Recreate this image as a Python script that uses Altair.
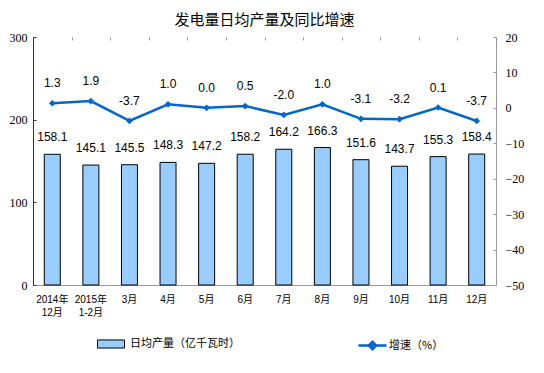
import altair as alt
import pandas as pd

categories = ["2014年|12月", "2015年|1-2月", "3月", "4月", "5月", "6月",
              "7月", "8月", "9月", "10月", "11月", "12月"]
output = [158.1, 145.1, 145.5, 148.3, 147.2, 158.2, 164.2, 166.3, 151.6, 143.7, 155.3, 158.4]
growth = [1.3, 1.9, -3.7, 1.0, 0.0, 0.5, -2.0, 1.0, -3.1, -3.2, 0.1, -3.7]
left_ticks = [0, 100, 200, 300]
right_ticks = [-50, -40, -30, -20, -10, 0, 10, 20]
bar_name = "日均产量（亿千瓦时）"
line_name = "增速（%）"

df = pd.DataFrame({
    "cat": categories,
    "output": output,
    "growth": growth,
    "s1": bar_name,
    "s2": line_name,
})
df["olabel"] = [f"{v:.1f}" for v in output]
df["glabel"] = [f"{v:.1f}" for v in growth]

CJK = "Noto Sans CJK SC"
MIX = "Liberation Sans, Noto Sans CJK SC"
NUM = "Liberation Sans"
SERIF = "Liberation Serif"

xscale = alt.Scale(paddingInner=0, paddingOuter=0)
lscale = alt.Scale(domain=[0, 300])
rscale = alt.Scale(domain=[-50, 20])

x_main = alt.X("cat:N", sort=categories, scale=xscale, title=None,
               axis=alt.Axis(labelAngle=0, labelExpr="split(datum.label, '|')",
                             labelFont=MIX, labelFontSize=10, labelColor="#000",
                             labelLineHeight=13, labelPadding=9, ticks=False,
                             domainColor="#999999", grid=False))
x_ticks = alt.X("cat:N", sort=categories, scale=xscale, title=None,
                axis=alt.Axis(labels=False, domain=False, ticks=True, tickSize=3,
                              offset=-3, tickBand="extent", tickColor="#999999",
                              grid=False))
x_none = alt.X("cat:N", sort=categories, scale=xscale, axis=None)

base = alt.Chart(df)

bars = base.mark_bar(size=16, stroke="black", strokeWidth=1).encode(
    x=x_main,
    y=alt.Y("output:Q", scale=lscale, title=None,
            axis=alt.Axis(orient="left", values=left_ticks, ticks=False,
                          domainColor="#333333", labelFont=SERIF, labelFontSize=12,
                          labelColor="#000", labelPadding=6, grid=False)),
    fill=alt.Fill("s1:N", scale=alt.Scale(domain=[bar_name], range=["#99CCFF"]),
                  legend=alt.Legend(orient="none", legendX=64, legendY=293, title=None,
                                    symbolType="M-1,-0.3H1V0.3H-1Z", symbolSize=729,
                                    symbolStrokeColor="black", symbolStrokeWidth=1,
                                    labelFont=CJK, labelFontSize=11, labelOffset=5,
                                    labelColor="#000", padding=0)),
)

bar_text = base.mark_text(baseline="bottom", dy=-10, font=NUM, fontSize=12, color="#000").encode(
    x=x_ticks,
    y=alt.Y("output:Q", scale=lscale, title=None,
            axis=alt.Axis(orient="left", values=left_ticks, labels=False, domain=False,
                          tickSize=3, offset=-3, tickColor="#333333", grid=False)),
    text="olabel:N",
)

left = alt.layer(bars, bar_text).resolve_axis(x="independent", y="independent")

line = base.mark_line(strokeWidth=2.5,
                      point=alt.OverlayMarkDef(shape="diamond", filled=True, size=45)).encode(
    x=x_none,
    y=alt.Y("growth:Q", scale=rscale, title=None,
            axis=alt.Axis(orient="right", values=right_ticks, ticks=False,
                          domainColor="#999999", labelFont=SERIF, labelFontSize=12,
                          labelColor="#000", labelPadding=9, grid=False)),
    color=alt.Color("s2:N", scale=alt.Scale(domain=[line_name], range=["#0066CC"]),
                    legend=alt.Legend(orient="none", legendX=324, legendY=293, title=None,
                                      symbolType="M-1,0H1M0,-0.26L0.26,0L0,0.26L-0.26,0Z",
                                      symbolSize=784, symbolStrokeWidth=2.5,
                                      symbolFillColor="#0066CC", symbolStrokeColor="#0066CC",
                                      labelFont=CJK, labelFontSize=11, labelOffset=1,
                                      labelColor="#000", padding=0)),
)

line_text = base.mark_text(baseline="bottom", dy=-13, font=NUM, fontSize=12, color="#000").encode(
    x=x_none,
    y=alt.Y("growth:Q", scale=rscale, title=None,
            axis=alt.Axis(orient="right", values=right_ticks, labels=False, domain=False,
                          tickSize=3, offset=-3, tickColor="#999999", grid=False)),
    text="glabel:N",
)

right = alt.layer(line, line_text).resolve_axis(y="independent")

chart = alt.layer(left, right).resolve_scale(y="independent").properties(
    width=463, height=248,
    autosize=alt.AutoSizeParams(type="none"),
    padding={"left": 25, "top": 29, "right": 40, "bottom": 80},
    title=alt.TitleParams("发电量日均产量及同比增速", font=CJK, fontSize=15,
                          fontWeight="normal", color="#000", anchor="middle", offset=3),
).configure_view(stroke=None)

chart.save("out.html", embed_options={"renderer": "svg", "actions": False})
